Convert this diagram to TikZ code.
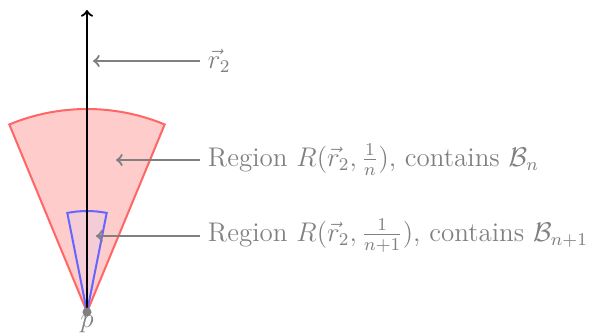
\documentclass[tikz,border=0pt]{standalone}
\usepackage{amsmath}
\begin{document}
\begin{tikzpicture}[x=0.4445pt,y=0.4445pt,
  every node/.style={font=\fontsize{12}{14}\selectfont},
  lbl/.style={text=gray, anchor=west},
  pointer/.style={gray, line width=1pt, ->},
  bigsec/.style={draw=red!60, fill=red!20, line width=0.9pt},
  smallsec/.style={draw=blue!60, fill=blue!40!red!20, fill opacity=0.6, line width=0.9pt}]
\useasboundingbox (0,0) rectangle (610,333);
\coordinate (P) at (87,21);
\draw[bigsec] (P) -- ++(112.5:203) arc[start angle=112.5, end angle=67.5, radius=203] -- cycle;
\draw[smallsec] (P) -- ++(101.25:101) arc[start angle=101.25, end angle=78.75, radius=101] -- cycle;
\coordinate (T) at (87,323);
\draw[black, line width=1pt, ->] (P) -- (T);
\node[circle, fill=gray, inner sep=0pt, minimum size=4pt] (p) at (P) {};
\node[text=gray, inner sep=1pt] (plabel) at (87,9) {$p$};
\node[lbl] (l1) at (200,272) {$\vec{r}_2$};
\node[lbl] (l2) at (200,173) {Region $R(\vec{r}_2,\frac{1}{n})$, contains $\mathcal{B}_n$};
\node[lbl] (l3) at (200,97) {Region $R(\vec{r}_2,\frac{1}{n+1})$, contains $\mathcal{B}_{n+1}$};
\coordinate (a1) at (93,272);
\coordinate (a2) at (116,173);
\coordinate (a3) at (96,97);
\draw[pointer] (l1.west) -- (a1);
\draw[pointer] (l2.west) -- (a2);
\draw[pointer] (l3.west) -- (a3);
\end{tikzpicture}
\end{document}
